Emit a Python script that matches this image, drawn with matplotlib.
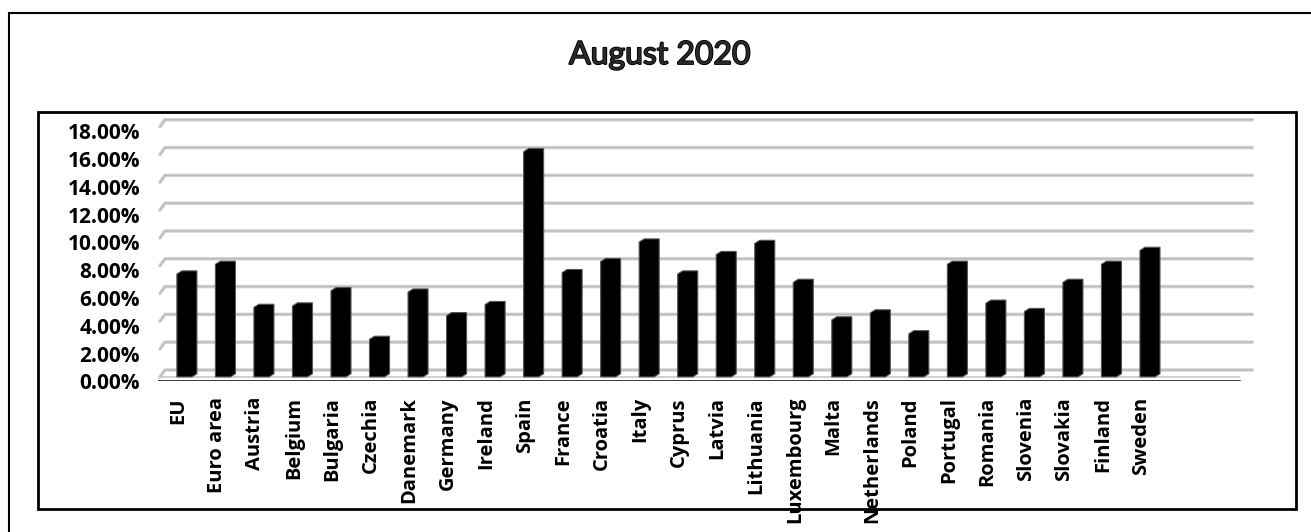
import numpy as np
import matplotlib
matplotlib.use('Agg')
import matplotlib.pyplot as plt
from matplotlib.patches import Polygon, Rectangle
from matplotlib.ticker import PercentFormatter
from matplotlib.transforms import ScaledTranslation
import matplotlib.patheffects as pe

countries = ['EU', 'Euro area', 'Austria', 'Belgium', 'Bulgaria', 'Czechia',
             'Danemark', 'Germany', 'Ireland', 'Spain', 'France', 'Croatia',
             'Italy', 'Cyprus', 'Latvia', 'Lithuania', 'Luxembourg', 'Malta',
             'Netherlands', 'Poland', 'Portugal', 'Romania', 'Slovenia',
             'Slovakia', 'Finland', 'Sweden']
# unemployment rate, %
rates = [7.4, 8.1, 5.0, 5.1, 6.2, 2.7, 6.1, 4.4, 5.2, 16.2, 7.5, 8.3, 9.7,
         7.4, 8.8, 9.6, 6.8, 4.1, 4.6, 3.1, 8.1, 5.3, 4.7, 6.8, 8.1, 9.1]
y_ticks = [0, 2, 4, 6, 8, 10, 12, 14, 16, 18]
title = 'August 2020'

plt.rcParams['font.family'] = ['Open Sans', 'DejaVu Sans']

W, H = 1311, 532
fig = plt.figure(figsize=(W / 100, H / 100), dpi=100)

# outer and inner frames
fig.patches.append(Rectangle((9 / W, -0.1), 1.2, 1.1 - 13 / H, transform=fig.transFigure,
                             fill=False, lw=1.5, ec='black'))
fig.patches.append(Rectangle((38 / W, 1 - 509 / H), (1296 - 38) / W, (509 - 112) / H,
                             transform=fig.transFigure, fill=False, lw=2, ec='black'))

fig.text(660 / W, 1 - 55 / H, title, ha='center', va='center', fontsize=23,
         family=['Lato', 'DejaVu Sans'], color='#2a2a2a',
         path_effects=[pe.withStroke(linewidth=1.3, foreground='black')])

ax = fig.add_axes([158 / W, (H - 381.1) / H, 1096 / W, 18.9 * 13.9 / H])
ax.set_xlim(-0.75, 27.7)
ax.set_ylim(-0.8, 18.1)
for s in ax.spines.values():
    s.set_visible(False)

# 3d-ish gridlines
depth_x, depth_y = 0.13, 0.5
for v in y_ticks:
    xs = [-0.57 - depth_x, -0.57, 27.66]
    ys = [v - depth_y, v, v]
    ax.plot(xs, ys, color='#d6d6d6', lw=2.6, solid_capstyle='round', zorder=1)
    ax.plot(xs, ys, color='#b9b9b9', lw=1.0, solid_capstyle='round', zorder=1)
ax.plot([-0.7, 27.3], [-0.5, -0.5], color='#c8c8c8', lw=1.2, zorder=1)
ax.plot([-0.75, 27.3], [-0.76, -0.76], color='black', lw=1.8, zorder=3)

# bars as beveled columns
x = np.arange(len(countries))
for c, v in zip(x, rates):
    pts = [(c - 0.26, -0.5), (c + 0.13, -0.5), (c + 0.26, -0.27),
           (c + 0.26, v - 0.27), (c - 0.13, v - 0.27), (c - 0.26, v - 0.5)]
    ax.add_patch(Polygon(pts, closed=True, fc='black', ec='#555555', lw=0.8, zorder=2))

ax.set_yticks(y_ticks)
ax.yaxis.set_major_formatter(PercentFormatter(100, decimals=2))
ax.tick_params(axis='y', length=0, pad=13)
shift = ScaledTranslation(0, -0.115, fig.dpi_scale_trans)
for lab in ax.get_yticklabels():
    lab.set_fontweight('bold')
    lab.set_fontsize(15)
    lab.set_transform(lab.get_transform() + shift)

ax.set_xticks(x - 0.22)
ax.set_xticklabels(countries, rotation=90, fontweight='bold', fontsize=14.5, va='top')
ax.tick_params(axis='x', length=0, pad=11.5)

fig.savefig('out.png', dpi=100)
